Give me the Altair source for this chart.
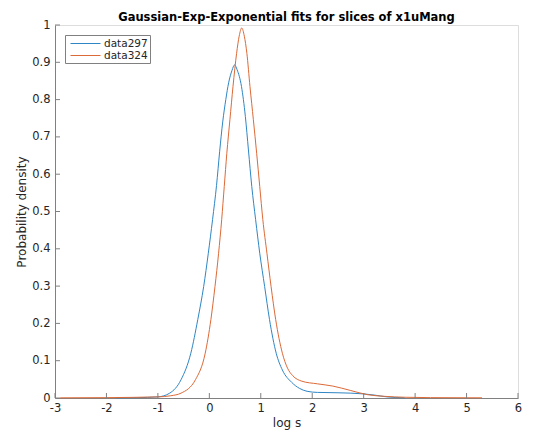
import altair as alt
import pandas as pd

# data297 (blue)
x297 = [-1.8, -1.4, -1.0, -0.77, -0.55, -0.36, -0.225, -0.11, -0.02, 0.0625, 0.14, 0.2, 0.26, 0.32, 0.375, 0.44, 0.49, 0.54, 0.625, 0.70, 0.76, 0.825, 0.9, 0.98, 1.075, 1.17, 1.30, 1.42, 1.6, 1.75, 1.9, 2.1, 2.5, 3.0, 3.2, 3.45, 3.8]
y297 = [0.0005, 0.001, 0.003, 0.013, 0.049, 0.12, 0.21, 0.299, 0.388, 0.478, 0.57, 0.66, 0.74, 0.80, 0.845, 0.878, 0.893, 0.88, 0.835, 0.755, 0.665, 0.567, 0.478, 0.388, 0.299, 0.21, 0.12, 0.075, 0.042, 0.026, 0.018, 0.015, 0.014, 0.011, 0.008, 0.003, 0.0005]

# data324 (orange)
x324 = [-2.9, -2.0, -1.0, -0.75, -0.55, -0.27, -0.08, 0.03, 0.11, 0.18, 0.24, 0.29, 0.34, 0.40, 0.46, 0.53, 0.58, 0.63, 0.68, 0.73, 0.79, 0.856, 0.92, 0.98, 1.04, 1.12, 1.2, 1.29, 1.42, 1.52, 1.62, 1.8, 2.1, 2.4, 2.75, 3.07, 3.4, 3.8, 4.3, 5.3]
y324 = [0.0005, 0.001, 0.003, 0.006, 0.013, 0.049, 0.12, 0.21, 0.299, 0.388, 0.478, 0.567, 0.656, 0.746, 0.835, 0.924, 0.97, 0.992, 0.97, 0.924, 0.835, 0.746, 0.656, 0.567, 0.478, 0.388, 0.299, 0.21, 0.12, 0.08, 0.06, 0.045, 0.038, 0.032, 0.02, 0.009, 0.0045, 0.002, 0.001, 0.0005]

series_names = ["data297", "data324"]
series_colors = ["#2f86c4", "#dc6a38"]
x_ticks = [-3, -2, -1, 0, 1, 2, 3, 4, 5, 6]
y_ticks = [0, 0.1, 0.2, 0.3, 0.4, 0.5, 0.6, 0.7, 0.8, 0.9, 1]

rows = []
for i, (xx, yy) in enumerate(zip(x297, y297)):
    rows.append({"x": xx, "y": yy, "series": "data297", "order": i})
for i, (xx, yy) in enumerate(zip(x324, y324)):
    rows.append({"x": xx, "y": yy, "series": "data324", "order": i})
df = pd.DataFrame(rows)

W, H = 463, 373
FONT = "DejaVu Sans"
AX = "#262626"

xscale = alt.Scale(domain=[-3, 6], nice=False, zero=False)
yscale = alt.Scale(domain=[0, 1], nice=False)

xaxis = alt.Axis(values=x_ticks, ticks=False, grid=False, domainColor="#808080",
                 labelColor=AX, labelFontSize=11.5, labelFont=FONT, labelPadding=4,
                 labelExpr="'' + datum.value", labelOverlap=False,
                 titleFont=FONT, titleFontSize=12, titleFontWeight="normal",
                 titleColor=AX, titlePadding=4, labelFlush=False)
yaxis = alt.Axis(values=y_ticks, ticks=False, grid=False, domainColor="#808080",
                 labelColor=AX, labelFontSize=11.5, labelFont=FONT, labelPadding=5,
                 labelExpr="'' + datum.value", labelOverlap=False,
                 titleFont=FONT, titleFontSize=12, titleFontWeight="normal",
                 titleColor=AX, titlePadding=3, labelFlush=False)

lines = alt.Chart(df).mark_line(strokeWidth=1, interpolate="monotone").encode(
    x=alt.X("x:Q", scale=xscale, title="log s", axis=xaxis),
    y=alt.Y("y:Q", scale=yscale, title="Probability density", axis=yaxis),
    color=alt.Color("series:N", scale=alt.Scale(domain=series_names, range=series_colors),
                    legend=alt.Legend(title=None, orient="none", legendX=10, legendY=10,
                                      symbolType="M-1,0H4", symbolSize=144, symbolStrokeWidth=1,
                                      symbolOffset=3,
                                      labelFont=FONT, labelFontSize=10.5, labelColor=AX,
                                      strokeColor="#808080", fillColor="white",
                                      padding=2, rowPadding=0, labelOffset=21)),
    order="order:Q",
)

xt = pd.DataFrame({"t": x_ticks})
yt = pd.DataFrame({"t": y_ticks})
xticks = alt.Chart(xt).mark_rule(color="#808080").encode(
    x=alt.X("t:Q", scale=xscale, title="log s", axis=xaxis), y=alt.value(H), y2=alt.value(H - 5))
yticks = alt.Chart(yt).mark_rule(color="#808080").encode(
    y=alt.Y("t:Q", scale=yscale, title="Probability density", axis=yaxis), x=alt.value(0), x2=alt.value(5))

chart = alt.layer(lines, xticks, yticks).properties(
    width=W, height=H,
    title=alt.TitleParams("Gaussian-Exp-Exponential fits for slices of x1uMang",
                          font=FONT, fontSize=11.5, fontWeight="bold", color="black",
                          anchor="middle", offset=5, dy=9),
    autosize=alt.AutoSizeParams(type="none"),
    padding={"left": 55, "top": 25, "right": 15, "bottom": 34},
).configure_view(stroke=None).configure(background="white")

chart.save("out.html", embed_options={"renderer": "svg", "actions": False})
